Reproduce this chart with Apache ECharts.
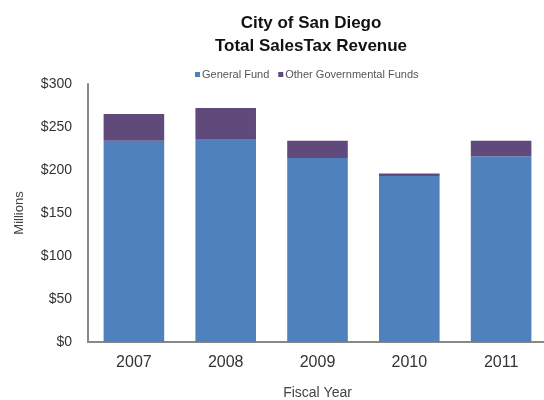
<!DOCTYPE html>
<html>
<head>
<meta charset="utf-8">
<script src="https://cdn.jsdelivr.net/npm/echarts@6/dist/echarts.min.js"></script>
<style>
  html, body { margin: 0; padding: 0; background: #fff; }
  #chart { width: 544px; height: 400px; }
</style>
</head>
<body>
<div id="chart"></div>
<script>
// chart data
const years = ['2007', '2008', '2009', '2010', '2011'];
const generalFund = [234, 236, 214, 193, 216];
const otherFunds = [31, 36, 20, 3, 18];
const seriesNames = ['General Fund', 'Other Governmental Funds'];

const font = '"Liberation Sans Narrow", "Liberation Sans", Arial, sans-serif';
const chart = echarts.init(document.getElementById('chart'));

const option = {
  animation: false,
  title: {
    text: 'City of San Diego\nTotal SalesTax Revenue',
    left: 306,
    top: 7,
    textAlign: 'center',
    textStyle: {
      fontFamily: font,
      fontSize: 17,
      fontWeight: 'bold',
      color: '#111',
      lineHeight: 23
    }
  },
  legend: {
    data: seriesNames,
    top: 64,
    left: 190,
    itemWidth: 5,
    itemHeight: 5,
    itemGap: 9,
    icon: 'rect',
    textStyle: { fontFamily: font, fontSize: 11, color: '#555', padding: [0, 0, 0, -3] }
  },
  grid: {
    left: 88,
    top: 84,
    width: 459,
    height: 258,
    outerBoundsMode: 'none'
  },
  xAxis: {
    type: 'category',
    data: years,
    name: 'Fiscal Year',
    nameLocation: 'middle',
    nameGap: 44,
    nameTextStyle: { fontFamily: font, fontSize: 14, color: '#444' },
    axisLine: { lineStyle: { color: '#888', width: 2 } },
    axisTick: { show: false },
    axisLabel: { fontFamily: font, fontSize: 16, color: '#333', margin: 13 }
  },
  yAxis: {
    type: 'value',
    min: 0,
    max: 300,
    interval: 50,
    name: 'Millions',
    nameLocation: 'middle',
    nameGap: 62,
    nameTextStyle: { fontFamily: font, fontSize: 13, color: '#444' },
    axisLine: { show: true, lineStyle: { color: '#888', width: 2 } },
    axisTick: { show: false },
    splitLine: { show: false },
    axisLabel: {
      fontFamily: font,
      fontSize: 14,
      color: '#333',
      margin: 16,
      formatter: v => '$' + v
    }
  },
  series: [
    {
      name: seriesNames[0],
      type: 'bar',
      stack: 'total',
      barWidth: '66%',
      itemStyle: { color: '#4F81BD' },
      data: generalFund
    },
    {
      name: seriesNames[1],
      type: 'bar',
      stack: 'total',
      barWidth: '66%',
      itemStyle: { color: '#604A7B' },
      data: otherFunds
    }
  ]
};

chart.setOption(option);
</script>
</body>
</html>
